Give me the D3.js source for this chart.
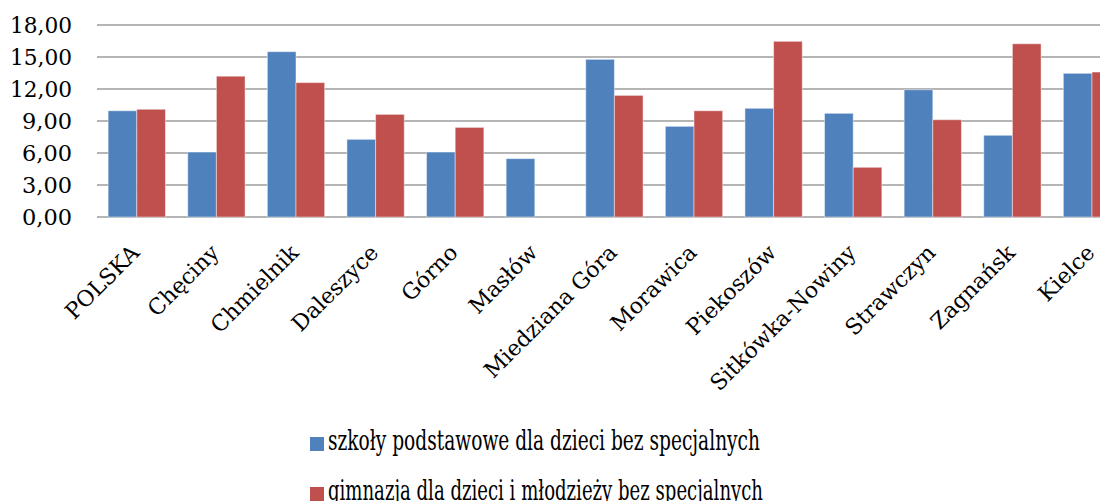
<!DOCTYPE html>
<html>
<head>
<meta charset="utf-8">
<script src="https://cdn.jsdelivr.net/npm/d3@7"></script>
<style>
  body { margin: 0; background: #fff; overflow: hidden; }
  text { font-family: "DejaVu Serif", serif; fill: #000; }
</style>
</head>
<body>
<div id="chart"></div>
<script>
// ---- data ----
var categories = ["POLSKA", "Chęciny", "Chmielnik", "Daleszyce", "Górno", "Masłów",
  "Miedziana Góra", "Morawica", "Piekoszów", "Sitkówka-Nowiny", "Strawczyn", "Zagnańsk", "Kielce"];
var seriesNames = ["szkoły podstawowe dla dzieci bez specjalnych",
  "gimnazja dla dzieci i młodzieży bez specjalnych"];
var podstawowe = [9.96, 6.09, 15.50, 7.28, 6.09, 5.47, 14.78, 8.50, 10.19, 9.72, 11.93, 7.66, 13.47];
var gimnazja   = [10.10, 13.20, 12.60, 9.62, 8.40, 0, 11.40, 9.96, 16.47, 4.66, 9.12, 16.24, 13.59];
var yTicks = [0, 3, 6, 9, 12, 15, 18];
var colors = ["#4F81BD", "#C0504D"];

// ---- layout ----
var svgWidth = 1100, svgHeight = 501;
var plot = { left: 97, top: 25, bottom: 217, band: 79.6 };

var svg = d3.select("#chart").append("svg")
  .attr("width", svgWidth)
  .attr("height", svgHeight);

var xScale = d3.scaleBand()
  .domain(categories)
  .range([plot.left, plot.left + plot.band * categories.length])
  .paddingInner(0.28)
  .paddingOuter(0.14);

var xSub = d3.scaleBand()
  .domain([0, 1])
  .range([0, xScale.bandwidth()]);

var yScale = d3.scaleLinear()
  .domain([0, 18])
  .range([plot.bottom, plot.top]);

// gridlines
svg.append("g").selectAll("line")
  .data(yTicks)
  .enter().append("line")
  .attr("x1", plot.left)
  .attr("x2", svgWidth)
  .attr("y1", d => yScale(d))
  .attr("y2", d => yScale(d))
  .attr("stroke", "#9c9c9c")
  .attr("stroke-width", 1.5);

// y axis labels (comma decimals)
var yAxis = d3.axisLeft(yScale)
  .tickValues(yTicks)
  .tickSize(0)
  .tickPadding(0)
  .tickFormat(d => d3.format(".2f")(d).replace(".", ","));

var yG = svg.append("g")
  .attr("transform", "translate(72,0)")
  .call(yAxis);
yG.select(".domain").remove();
yG.selectAll("text")
  .attr("font-family", "DejaVu Serif")
  .attr("font-size", 22.5)
  .attr("fill", "#000")
  .attr("textLength", d => d >= 10 ? 62 : 50)
  .attr("lengthAdjust", "spacingAndGlyphs");

// bars
var seriesData = [podstawowe, gimnazja];
var groups = svg.append("g").selectAll("g")
  .data(categories)
  .enter().append("g")
  .attr("transform", d => `translate(${xScale(d)},0)`);

groups.selectAll("rect")
  .data((d, i) => seriesData.map((s, k) => ({ k: k, v: s[i] })))
  .enter().append("rect")
  .filter(d => d.v > 0)
  .attr("x", d => xSub(d.k))
  .attr("width", xSub.bandwidth())
  .attr("y", d => yScale(d.v))
  .attr("height", d => yScale(0) - yScale(d.v))
  .attr("fill", d => colors[d.k])
  .attr("stroke", "rgba(255,255,255,0.45)")
  .attr("stroke-width", 1);

// x labels, rotated
svg.append("g").selectAll("text")
  .data(categories)
  .enter().append("text")
  .attr("transform", d => `translate(${xScale(d) + xScale.bandwidth() / 2 + 4},254) rotate(-45)`)
  .attr("text-anchor", "end")
  .attr("font-size", 22)
  .text(d => d);

// legend
var legend = svg.append("g").selectAll("g")
  .data(seriesNames)
  .enter().append("g")
  .attr("transform", (d, i) => `translate(310,${437 + i * 50})`);

legend.append("rect")
  .attr("width", 14)
  .attr("height", 14)
  .attr("fill", (d, i) => colors[i]);

legend.append("text")
  .attr("x", 18)
  .attr("y", 13)
  .attr("font-family", "Liberation Serif")
  .attr("font-size", 28)
  .attr("textLength", (d, i) => i === 0 ? 432 : 435)
  .attr("lengthAdjust", "spacingAndGlyphs")
  .text(d => d);
</script>
</body>
</html>
